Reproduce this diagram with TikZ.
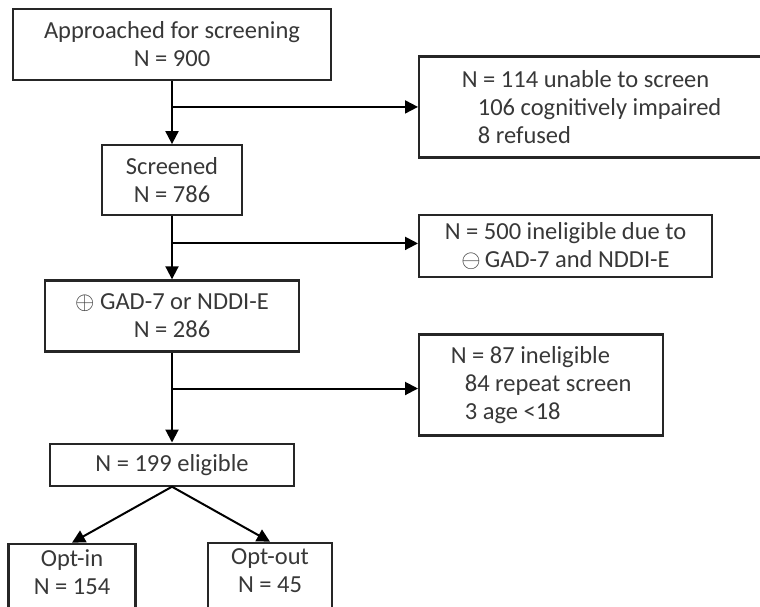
\documentclass[tikz,border=0pt]{standalone}
\usepackage{fontspec}
\setmainfont{Carlito}
\usetikzlibrary{arrows.meta, positioning, calc}
\tikzset{
  flowbox/.style={draw=black!85, line width=2.2pt, fill=white, align=center,
    inner sep=0pt, font=\fontsize{24.5}{28}\selectfont, text=black!78},
  flowarrow/.style={-{Triangle[length=13pt, width=13pt]}, line width=2pt, black},
}

\begin{document}
\begin{tikzpicture}[x=1pt, y=-1pt, node distance=63pt]
  \useasboundingbox (0,0) rectangle (760,606);
  \node[flowbox, minimum width=318pt, minimum height=71pt] (approached) at (172,44.5) {Approached for screening\\N = 900};
  \node[flowbox, below=of approached, minimum width=140pt, minimum height=70pt] (screened) {Screened\\N = 786};
  \node[flowbox, below=of screened, minimum width=254pt, minimum height=71pt] (positive) {$\oplus$ GAD-7 or NDDI-E\\N = 286};
  \node[flowbox, below=90pt of positive, minimum width=244pt, minimum height=42pt] (eligible) {N = 199 eligible};
  \node[flowbox, below=56pt of eligible, xshift=-100pt, minimum width=127pt, minimum height=80pt, text depth=24pt] (optin) {Opt-in\\N = 154};
  \node[flowbox, below=55pt of eligible, xshift=98pt, minimum width=124pt, minimum height=80pt, text depth=24pt] (optout) {Opt-out\\N = 45};
  % Abzweigungen
  \coordinate (b1) at ($(approached.south)!0.41!(screened.north)$);
  \coordinate (b2) at ($(screened.south)!0.43!(positive.north)$);
  \coordinate (b3) at ($(positive.south)!0.40!(eligible.north)$);
  \node[flowbox, right=246pt of b1, align=left, minimum width=345pt, minimum height=101pt] (unable) {N = 114 unable to screen\\\hspace*{16pt}106 cognitively impaired\\\hspace*{16pt}8 refused};
  \node[flowbox, right=246pt of b2, yshift=-3pt, minimum width=293pt, minimum height=62pt] (negative) {N = 500 ineligible due to\\$\ominus$\,GAD-7 and NDDI-E};
  \node[flowbox, right=246pt of b3, yshift=3.5pt, align=left, minimum width=244pt, minimum height=101pt] (ineligible) {N = 87 ineligible\\\hspace*{14pt}84 repeat screen\\\hspace*{14pt}3 age <18};
  \draw[flowarrow] (approached) -- (screened);
  \draw[flowarrow] (screened) -- (positive);
  \draw[flowarrow] (positive) -- (eligible);
  \draw[flowarrow] (b1) -- (b1 -| unable.west);
  \draw[flowarrow] (b2) -- (b2 -| negative.west);
  \draw[flowarrow] (b3) -- (b3 -| ineligible.west);
  \draw[flowarrow] (eligible.south) -- (optin.north);
  \draw[flowarrow] (eligible.south) -- (optout.north);
\end{tikzpicture}
\end{document}
